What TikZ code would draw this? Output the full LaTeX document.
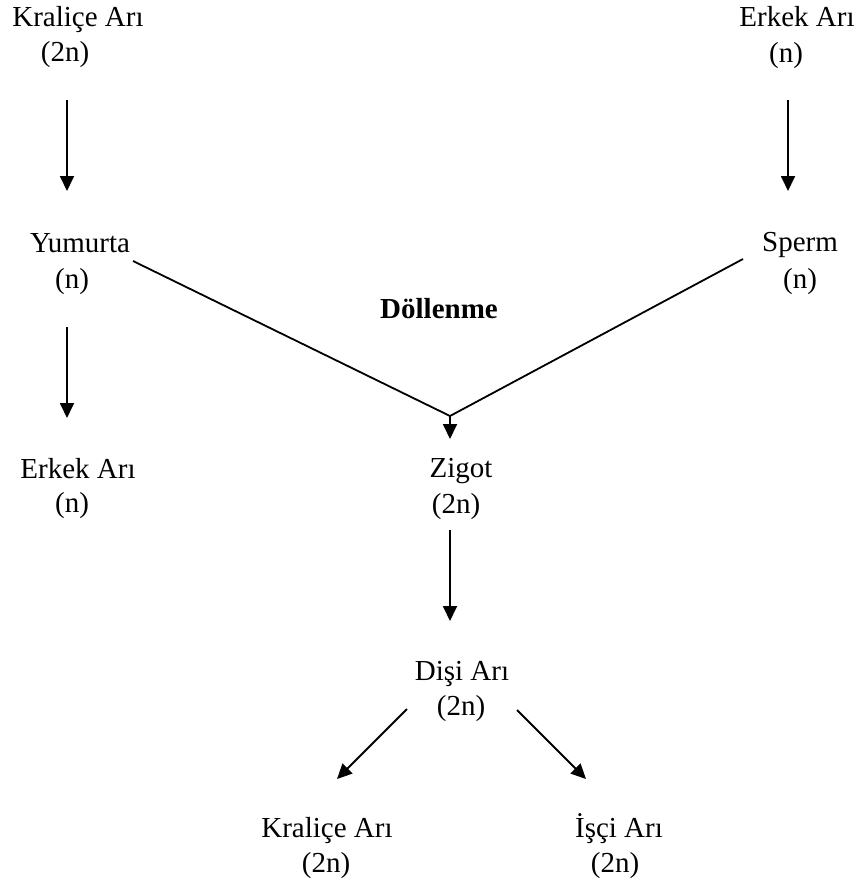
\documentclass[tikz,border=0pt]{standalone}
\usepackage{fontspec}
\setmainfont{Liberation Serif}
\usetikzlibrary{arrows.meta}
\begin{document}
\begin{tikzpicture}[x=1pt,y=-1pt,
  lbl/.style={anchor=base,inner sep=0pt,font=\fontsize{29}{34}\selectfont},
  bold lbl/.style={lbl,font=\fontsize{29}{34}\selectfont\bfseries},
  link/.style={line width=1.8pt},
  flow/.style={link,-{Triangle[width=14pt,length=15pt]}}]
\useasboundingbox (0,0) rectangle (866,886);

% queen and drone at the top
\node[lbl] (kq1) at (78,27) {Kraliçe Arı};
\node[lbl] (kq2) at (65,61) {(2n)};
\node[lbl] (ed1) at (797,26) {Erkek Arı};
\node[lbl] (ed2) at (786,62) {(n)};

% gametes
\node[lbl] (egg1) at (80,252) {Yumurta};
\node[lbl] (egg2) at (72,288) {(n)};
\node[lbl] (sp1) at (800,251) {Sperm};
\node[lbl] (sp2) at (800,288) {(n)};

% fertilisation
\node[bold lbl] (fert) at (439,318) {Döllenme};

% unfertilised egg becomes a drone
\node[lbl] (dr1) at (78,478) {Erkek Arı};
\node[lbl] (dr2) at (72,512) {(n)};

% zygote and female
\node[lbl] (zy1) at (461,477) {Zigot};
\node[lbl] (zy2) at (456,513) {(2n)};
\node[lbl] (fe1) at (462,680) {Dişi Arı};
\node[lbl] (fe2) at (461,715) {(2n)};

% castes
\node[lbl] (qb1) at (327,837) {Kraliçe Arı};
\node[lbl] (qb2) at (326,872) {(2n)};
\node[lbl] (wk1) at (619,837) {İşçi Arı};
\node[lbl] (wk2) at (615,872) {(2n)};

% connector end points
\coordinate (kqA) at (67,100);   \coordinate (kqB) at (67,191);
\coordinate (edA) at (788,100);  \coordinate (edB) at (788,191);
\coordinate (eggA) at (67,327);  \coordinate (eggB) at (67,418);
\coordinate (eggL) at (133,261);
\coordinate (spL) at (743,259);
\coordinate (join) at (450,416);
\coordinate (zyT) at (450,439);
\coordinate (zyA) at (450,530);  \coordinate (zyB) at (450,621);
\coordinate (feL) at (407,709);  \coordinate (qbT) at (337,779);
\coordinate (feR) at (517,710);  \coordinate (wkT) at (586,779);

\draw[flow] (kqA) -- (kqB);
\draw[flow] (edA) -- (edB);
\draw[flow] (eggA) -- (eggB);
\draw[link] (eggL) -- (join) -- (spL);
\draw[flow] (join) -- (zyT);
\draw[flow] (zyA) -- (zyB);
\draw[flow] (feL) -- (qbT);
\draw[flow] (feR) -- (wkT);
\end{tikzpicture}
\end{document}
